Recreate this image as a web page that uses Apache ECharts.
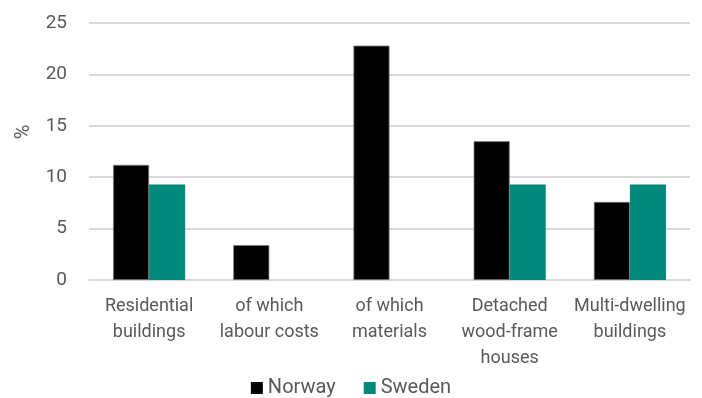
<!DOCTYPE html>
<html><head><meta charset="utf-8">
<script src="https://cdn.jsdelivr.net/npm/echarts@6/dist/echarts.min.js"></script>
<style>html,body{margin:0;padding:0;background:#fff}#c{width:702px;height:398px}</style>
</head><body><div id="c"></div>
<script>
const categories = ['Residential\nbuildings', 'of which\nlabour costs', 'of which\nmaterials', 'Detached\nwood-frame\nhouses', 'Multi-dwelling\nbuildings'];
const norway = [11.2, 3.4, 22.8, 13.5, 7.6];
const sweden = [9.3, null, null, 9.3, 9.3];
const yTicks = [0, 5, 10, 15, 20, 25];
const yAxisTitle = '%';

const FONT = 'Roboto, sans-serif';
const chart = echarts.init(document.getElementById('c'));
chart.setOption({
  animation: false,
  textStyle: { fontFamily: FONT },
  grid: { left: 89, right: 12, top: 23, bottom: 118, containLabel: false },
  legend: {
    top: 373, left: 'center', itemWidth: 12, itemHeight: 12, itemGap: 28,
    icon: 'rect',
    itemStyle: { borderWidth: 0 },
    textStyle: { fontSize: 20, color: '#595959', fontFamily: FONT },
    data: ['Norway', 'Sweden']
  },
  graphic: [{
    type: 'text', x: 24, y: 132, rotation: Math.PI / 2,
    style: { text: yAxisTitle, fill: '#595959', font: '20px ' + FONT, textAlign: 'center', textVerticalAlign: 'middle' }
  }],
  xAxis: {
    type: 'category', data: categories,
    axisLine: { show: true, lineStyle: { color: '#d9d9d9', width: 2 } },
    axisTick: { show: false },
    axisLabel: { color: '#595959', fontSize: 18, lineHeight: 26, margin: 13, interval: 0 }
  },
  yAxis: {
    type: 'value', min: yTicks[0], max: yTicks[yTicks.length - 1], interval: 5,
    axisLine: { show: false }, axisTick: { show: false },
    axisLabel: { color: '#595959', fontSize: 19, margin: 22 },
    splitLine: { lineStyle: { color: '#d9d9d9', width: 2 } }
  },
  series: [
    { name: 'Norway', type: 'bar', data: norway, barWidth: '30%', barGap: '0%',
      itemStyle: { color: '#000000', borderColor: '#7f7f7f', borderWidth: 0.75 } },
    { name: 'Sweden', type: 'bar', data: sweden, barWidth: '30%',
      itemStyle: { color: '#00897B' } }
  ]
});
</script></body></html>
